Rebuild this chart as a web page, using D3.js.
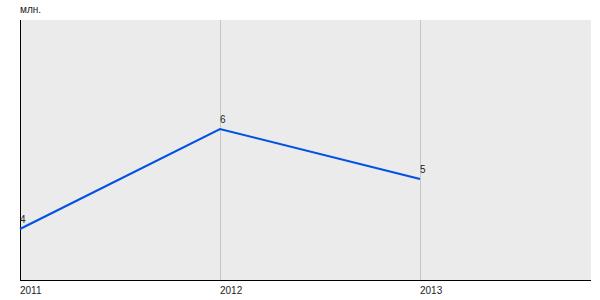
<!DOCTYPE html>
<html>
<head>
<meta charset="utf-8">
<script src="https://cdn.jsdelivr.net/npm/d3@7"></script>
<style>
  body { margin: 0; background: #fff; }
  text { font-family: "Liberation Sans", Arial, sans-serif; font-size: 10px; fill: #222; }
</style>
</head>
<body>
<script>
const years = [2011, 2012, 2013];
const values = [4, 6, 5];
const unitLabel = "млн.";

const width = 600;
const height = 300;
const plotLeft = 20, plotTop = 20, plotRight = 591, plotBottom = 280;

const svg = d3.select("body").append("svg")
              .attr("width", width)
              .attr("height", height);

// scales: 200px per year, 50px per unit
const x = d3.scaleLinear().domain([2011, 2014]).range([plotLeft, plotLeft + 600]);
const y = d3.scaleLinear().domain([3, 8.2]).range([plotBottom - 1, plotTop - 1]);

// plot background
svg.append("rect")
   .attr("x", plotLeft).attr("y", plotTop)
   .attr("width", plotRight - plotLeft).attr("height", plotBottom - plotTop)
   .attr("fill", "#ebebeb");

// vertical grid lines
svg.selectAll(".grid")
   .data(years.slice(1))
   .enter().append("line")
   .attr("class", "grid")
   .attr("x1", d => x(d) + 0.5).attr("x2", d => x(d) + 0.5)
   .attr("y1", plotTop).attr("y2", plotBottom)
   .attr("stroke", "#c6c6c6");

// axes
svg.append("line")
   .attr("x1", plotLeft + 0.5).attr("x2", plotLeft + 0.5)
   .attr("y1", plotTop).attr("y2", plotBottom + 1)
   .attr("stroke", "#000");
svg.append("line")
   .attr("x1", plotLeft).attr("x2", plotRight)
   .attr("y1", plotBottom + 0.5).attr("y2", plotBottom + 0.5)
   .attr("stroke", "#000");

// x tick labels
svg.selectAll(".tick-label")
   .data(years)
   .enter().append("text")
   .attr("class", "tick-label")
   .attr("x", d => x(d))
   .attr("y", plotBottom + 14)
   .text(d => d);

// unit label
svg.append("text")
   .attr("x", plotLeft)
   .attr("y", 13)
   .text(unitLabel);

// line
const data = years.map((yr, i) => ({ year: yr, value: values[i] }));
svg.append("path")
   .datum(data)
   .attr("fill", "none")
   .attr("stroke", "#0050e6")
   .attr("stroke-width", 2)
   .attr("d", d3.line().x(d => x(d.year)).y(d => y(d.value)));

// value labels
svg.selectAll(".val")
   .data(data)
   .enter().append("text")
   .attr("class", "val")
   .attr("x", d => x(d.year))
   .attr("y", d => y(d.value) - 6)
   .text(d => d.value);
</script>
</body>
</html>
